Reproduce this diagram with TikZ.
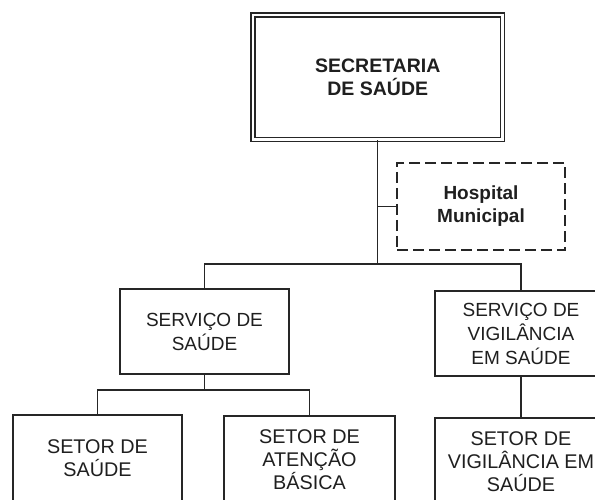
\documentclass[tikz,border=0pt]{standalone}
\usepackage{fontspec}
\setmainfont{Liberation Sans}
\begin{document}
\begin{tikzpicture}[x=1pt,y=-1pt,
  line width=1.3pt, draw=black!85,
  box/.style={draw=black!85, line width=1.3pt, inner sep=0pt, align=center, text=black!88},
  topfont/.style={font=\fontsize{19.5}{23}\selectfont\bfseries},
  hospfont/.style={font=\fontsize{19}{23}\selectfont\bfseries},
  midfont/.style={font=\fontsize{19}{24}\selectfont},
  lowfont/.style={font=\fontsize{19.8}{23}\selectfont},
  conn/.style={draw=black!85, line width=1.3pt}]
\useasboundingbox (0,0) rectangle (595,500);
\clip (0,0) rectangle (595,500);
\fill[white] (0,0) rectangle (595,500);
% top
\node[box, topfont, double=white, line width=1.5pt, double distance=2.3pt,
      minimum width=249.5pt, minimum height=124.5pt] (sec) at (377.75,77.25) {SECRETARIA\\DE SAÚDE};
\node[box, hospfont, dash pattern=on 11pt off 5pt,
      minimum width=168pt, minimum height=87pt] (hosp) at (481,206.5) {Hospital\\Municipal};
% middle
\node[box, midfont, minimum width=169pt, minimum height=85pt] (ss) at (204.5,331.5) {SERVIÇO DE\\SAÚDE};
\node[box, midfont, minimum width=172pt, minimum height=85pt] (sv) at (521,333.5) {SERVIÇO DE\\VIGILÂNCIA\\EM SAÚDE};
% bottom
\node[box, lowfont, minimum width=169pt, minimum height=87pt] (s1) at (97.5,458.5) {SETOR DE\\SAÚDE};
\node[box, lowfont, minimum width=171pt, minimum height=88pt] (s2) at (309.5,460) {SETOR DE\\ATENÇÃO\\BÁSICA};
\node[box, lowfont, minimum width=172pt, minimum height=88pt] (s3) at (521,462) {SETOR DE\\VIGILÂNCIA EM\\SAÚDE};
% connectors
\coordinate (hub) at (377.75,264);
\coordinate (hub2) at (204.5,390);
\draw[conn] (sec.south) -- (hub);
\draw[conn] (hosp.west) -- (hosp.west -| hub);
\draw[conn] (ss.north) |- (hub) -| (sv.north);
\draw[conn] (ss.south) -- (hub2);
\draw[conn] (s1.north) |- (hub2) -| (s2.north);
\draw[conn] (sv.south) -- (s3.north);
\end{tikzpicture}
\end{document}
